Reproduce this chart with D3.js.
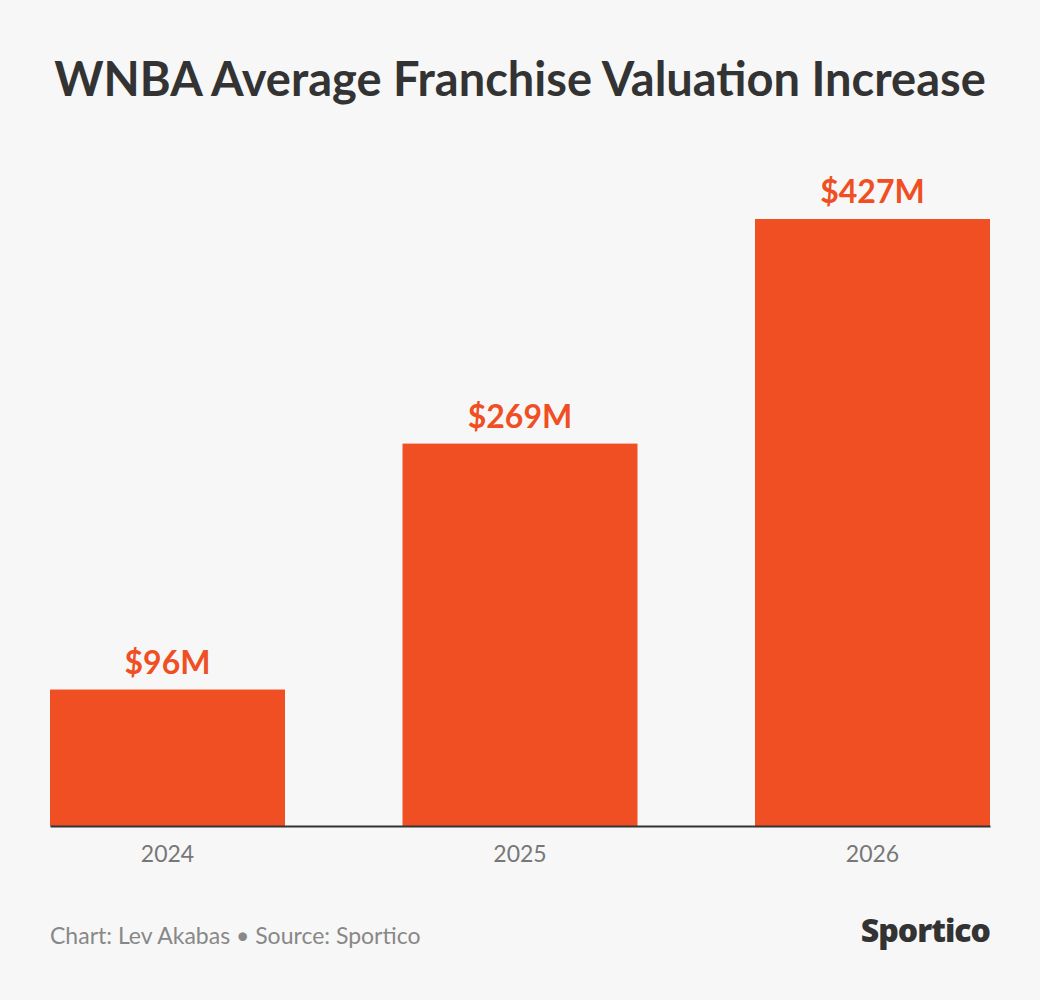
<!DOCTYPE html>
<html>
<head>
<meta charset="utf-8">
<script src="https://cdn.jsdelivr.net/npm/d3@7"></script>
<style>
  html, body { margin: 0; padding: 0; background: #f7f7f7; }
  svg { display: block; font-family: Lato, "Noto Sans", sans-serif; }
</style>
</head>
<body>
<svg id="chart"></svg>
<script>
// data
const years = ['2024', '2025', '2026'];
const valuations = [96, 269, 427];
const valueLabels = ['$96M', '$269M', '$427M'];

const width = 1040, height = 1000;
const margin = {top: 219, right: 50, bottom: 174, left: 50};

const svg = d3.select('#chart')
    .attr('width', width)
    .attr('height', height);

svg.append('rect')
    .attr('width', width)
    .attr('height', height)
    .attr('fill', '#f7f7f7');

const innerW = width - margin.left - margin.right;
const innerH = height - margin.top - margin.bottom;

const x = d3.scaleBand()
    .domain(years)
    .range([0, innerW])
    .paddingInner(1 / 3)
    .paddingOuter(0);

const y = d3.scaleLinear()
    .domain([0, d3.max(valuations)])
    .range([innerH, 0]);

const chart = svg.append('g')
    .attr('transform', `translate(${margin.left},${margin.top})`);

// title
svg.append('text')
    .attr('x', width / 2)
    .attr('y', 96)
    .attr('text-anchor', 'middle')
    .attr('font-size', 47)
    .attr('font-weight', 700)
    .attr('fill', '#333333')
    .text('WNBA Average Franchise Valuation Increase');

// bars
chart.selectAll('rect.bar')
    .data(years)
    .enter()
    .append('rect')
    .attr('class', 'bar')
    .attr('x', d => x(d))
    .attr('width', x.bandwidth())
    .attr('y', (d, i) => y(valuations[i]))
    .attr('height', (d, i) => innerH - y(valuations[i]))
    .attr('fill', '#f04e23');

// value labels
chart.selectAll('text.val')
    .data(years)
    .enter()
    .append('text')
    .attr('class', 'val')
    .attr('x', d => x(d) + x.bandwidth() / 2)
    .attr('y', (d, i) => y(valuations[i]) - 16)
    .attr('text-anchor', 'middle')
    .attr('font-size', 32)
    .attr('font-weight', 700)
    .attr('fill', '#f04e23')
    .text((d, i) => valueLabels[i]);

// x axis
const xAxis = d3.axisBottom(x).tickSize(0).tickPadding(20);
const xAxisG = chart.append('g')
    .attr('transform', `translate(0,${innerH})`)
    .call(xAxis);
xAxisG.select('.domain')
    .attr('stroke', '#333333')
    .attr('stroke-width', 2);
xAxisG.selectAll('text')
    .attr('font-size', 23)
    .attr('font-family', 'Lato, "Noto Sans", sans-serif')
    .attr('fill', '#777777');

// footer
svg.append('text')
    .attr('x', 50)
    .attr('y', 944)
    .attr('font-size', 23)
    .attr('fill', '#888888')
    .text('Chart: Lev Akabas \u2022 Source: Sportico');

svg.append('text')
    .attr('x', 990)
    .attr('y', 942)
    .attr('text-anchor', 'end')
    .attr('font-size', 32)
    .attr('font-weight', 800)
    .attr('font-family', '"Open Sans", Roboto, sans-serif')
    .attr('letter-spacing', -1)
    .attr('fill', '#333333')
    .text('Sportico');
</script>
</body>
</html>
